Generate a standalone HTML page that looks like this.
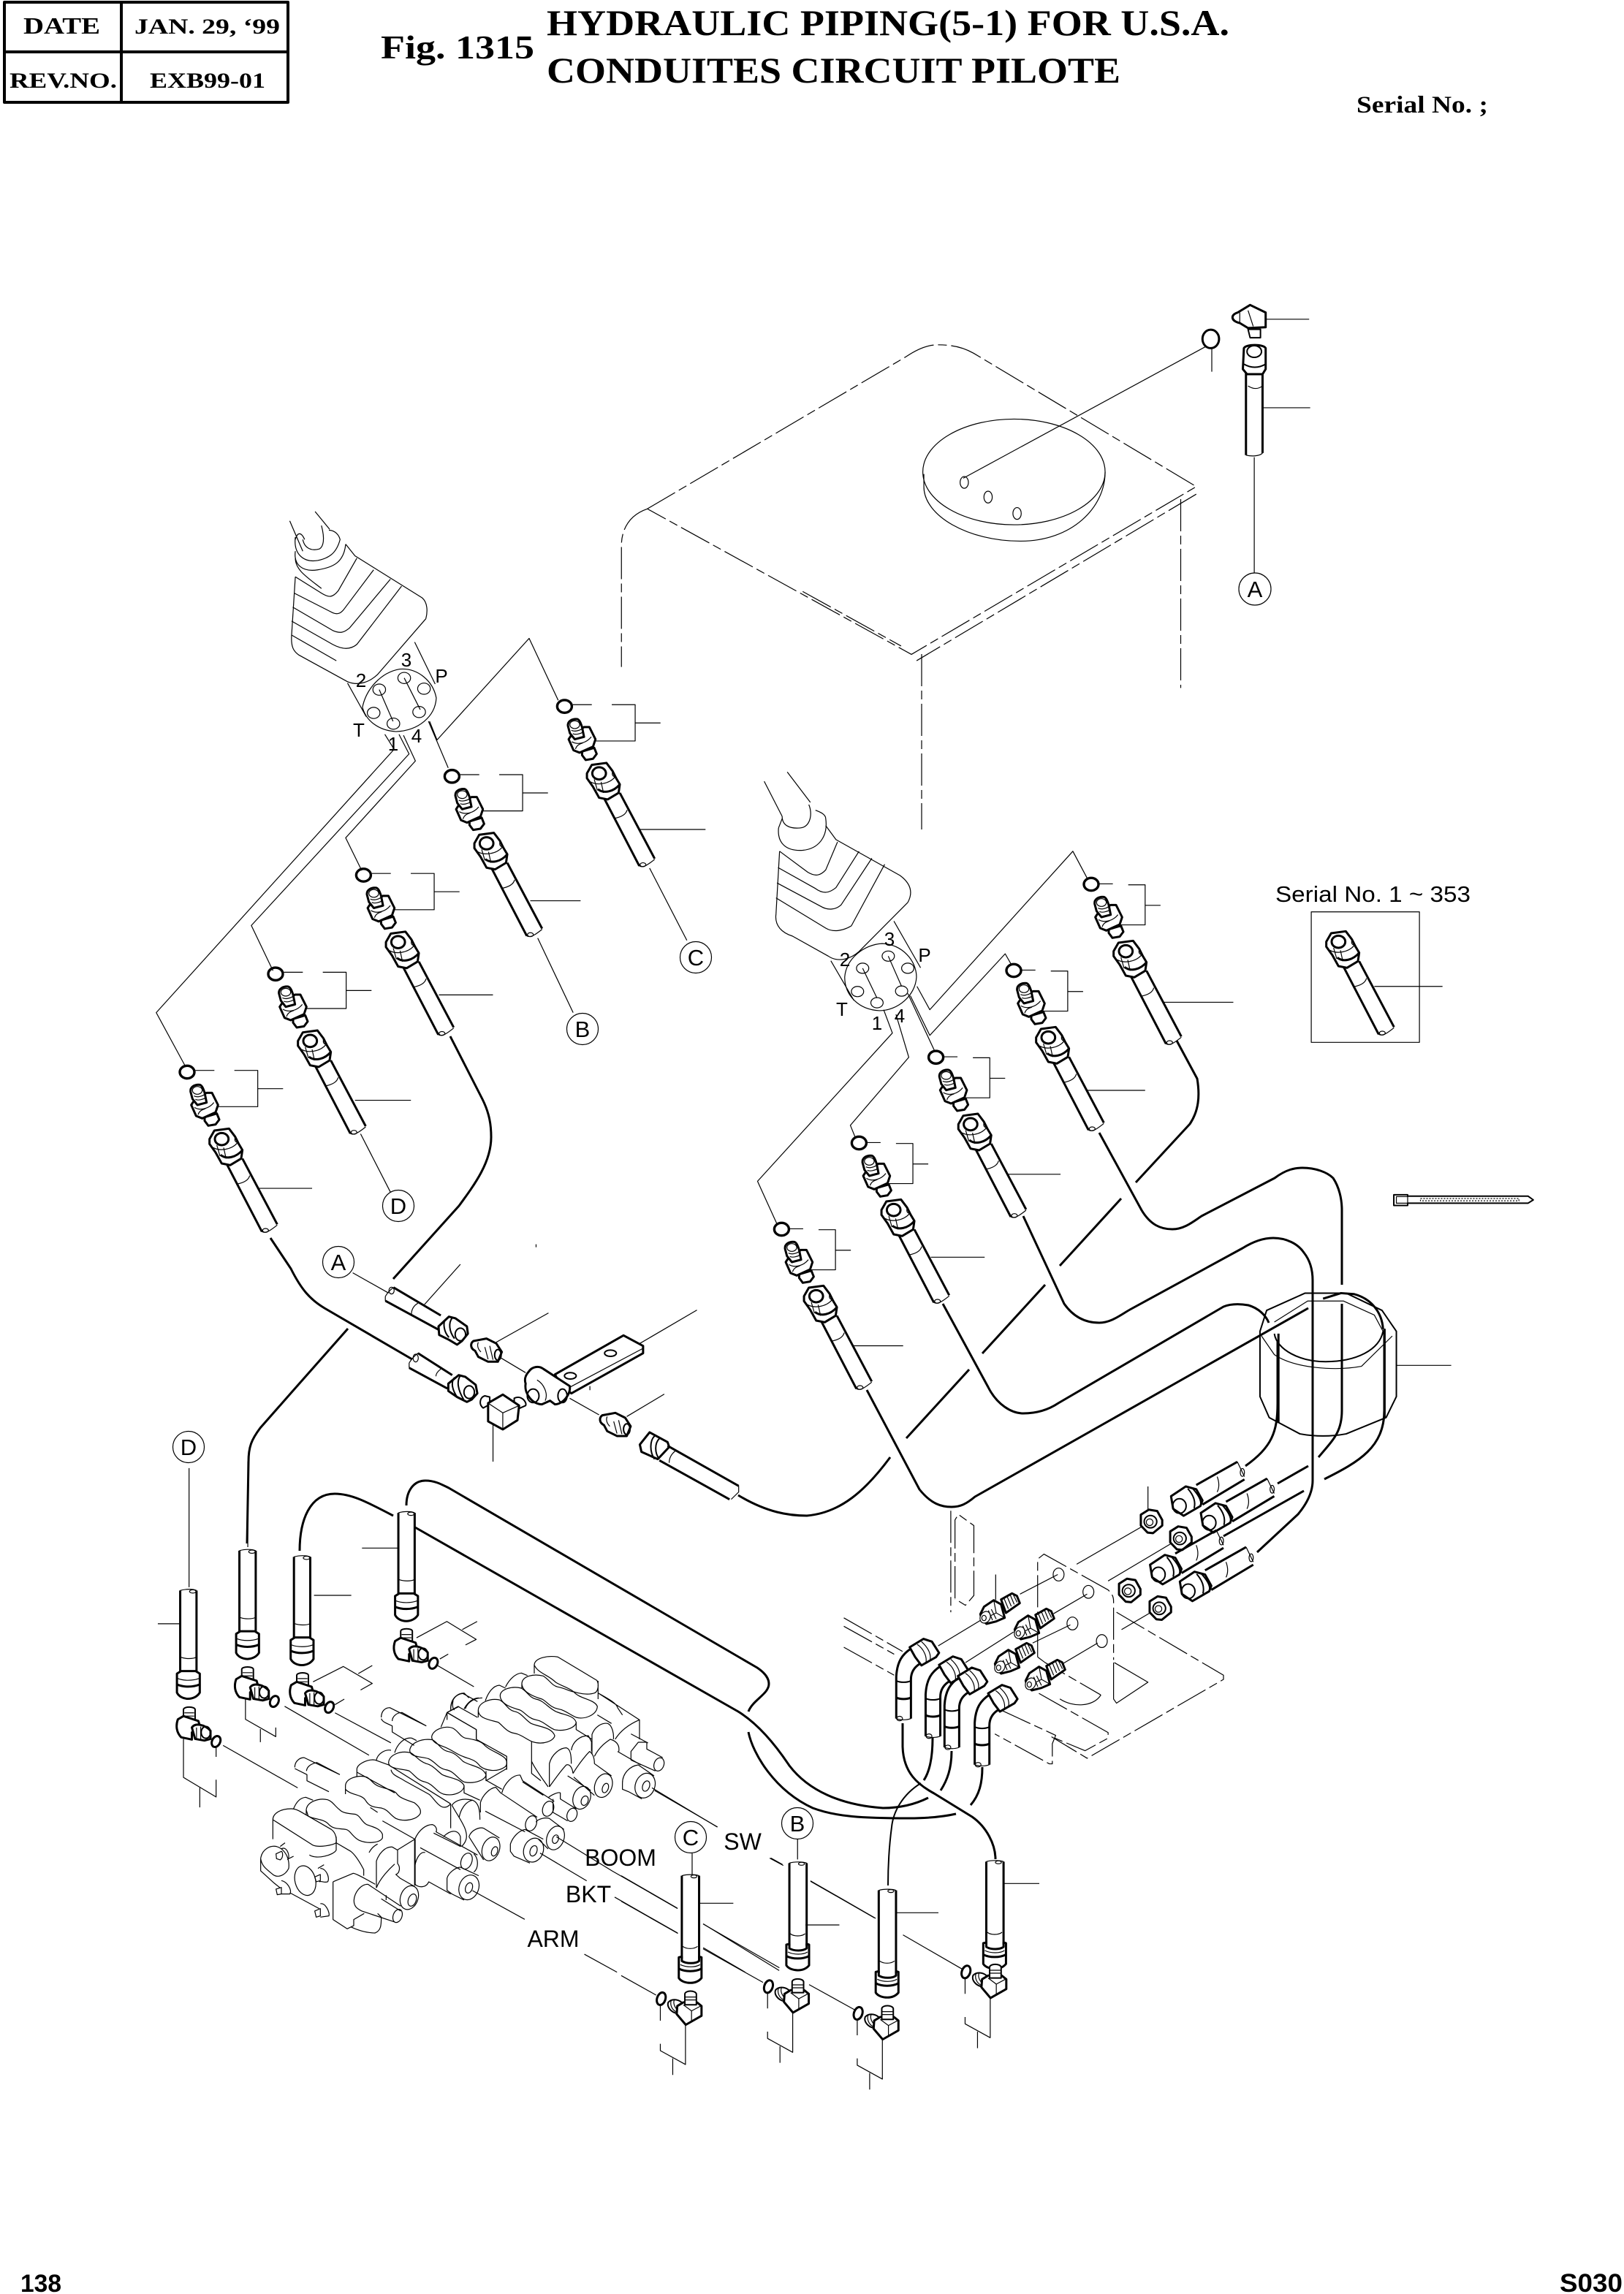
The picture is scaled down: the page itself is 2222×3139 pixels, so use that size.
<!DOCTYPE html>
<html><head><meta charset="utf-8"><title>Fig. 1315</title>
<style>
html,body{margin:0;padding:0;background:#fff;width:2222px;height:3139px;overflow:hidden}
svg{display:block}
path,ellipse,line,rect,polygon,circle{vector-effect:non-scaling-stroke;fill:none;stroke:#000;stroke-width:1.2;stroke-linejoin:round}
.k{stroke-width:3}
.m{stroke-width:2}
.w{fill:#fff}
.d{stroke-dasharray:44 6 12 6}
text{fill:#000;stroke:none}
.se{font-family:"Liberation Serif",serif;font-weight:bold}
.sa{font-family:"Liberation Sans",sans-serif}
</style></head><body>
<svg xmlns="http://www.w3.org/2000/svg" width="2222" height="3139">
<defs>
<g id="hose">
<path class="k" d="M164,380L307,655M227,355L370,625"/>
<path d="M307,655C322,665 345,648 370,628M202,460C232,455 252,445 257,425"/>
<ellipse cx="322" cy="650" rx="12" ry="8"/>
<path class="k w" d="M92,275L112,240L172,232L197,265L212,295L227,320L222,355L177,382L142,375L117,330L92,295Z"/>
<ellipse class="k" cx="142" cy="275" rx="28" ry="25"/>
<path d="M107,310C132,325 182,320 207,290M122,300L135,345M150,310L160,355M197,265C195,280 195,285 207,290"/>
<path class="k" d="M137,340C162,360 202,350 227,320"/>
</g>
<g id="set">
<ellipse class="k" rx="30" ry="26" style="stroke-width:3.4"/>
<path class="k w" d="M72,185L122,170L132,195L117,215L87,220L72,200Z"/>
<path class="k w" d="M80,85L102,85L127,135L117,165L62,190L37,180L17,135L30,115Z"/>
<path d="M30,145C55,160 90,150 110,125M45,175C50,160 60,155 75,150"/>
<path class="k w" d="M14,80C12,60 32,50 52,52C62,55 67,70 72,85L80,125L42,135L22,110Z"/>
<ellipse cx="42" cy="75" rx="20" ry="16"/>
<path d="M28,98C40,105 60,100 72,92M34,112C45,118 65,112 76,106"/>
<use href="#hose"/>
</g>
<g id="tT">
<path class="k" d="M73,395V650M108,395V650"/>
<path d="M73,395C85,390 100,390 108,395M75,600C85,605 100,605 107,600"/>
<ellipse cx="100" cy="398" rx="7" ry="5"/>
<path class="k w" d="M66,650L75,642H106L115,650V708C110,720 100,727 90,727C80,727 70,720 66,708Z"/>
<path class="k" d="M66,683C80,692 100,692 115,683"/>
<path d="M68,665C80,672 100,672 113,665"/>
</g>
<g id="eT">
<path class="m w" d="M80,760C80,750 105,750 105,760V790L95,800H85L80,790Z"/>
<path d="M82,770H103M82,780H103"/>
<path class="k w" d="M68,790L80,780L112,795L115,810L98,830V852L75,845C65,830 63,810 68,790Z"/>
<path class="k w" d="M98,815C105,800 125,805 138,825V850L125,855L105,850Z"/>
<ellipse class="m" cx="128" cy="830" rx="10" ry="18"/>
<path d="M108,815V848M117,812V852"/>
<ellipse class="k" cx="150" cy="858" rx="9" ry="17" transform="rotate(12 150 858)"/>
</g>
<g id="tB">
<path class="k" d="M200,350V690M257,350V690"/>
<path d="M200,350C215,344 245,344 257,350M203,640C215,652 240,652 252,640"/>
<ellipse cx="240" cy="353" rx="10" ry="6"/>
<path class="k w" d="M190,685L200,682V700C215,712 245,712 257,700V682L265,685V770C255,785 240,790 228,790C215,790 198,785 190,770Z"/>
<path class="k" d="M191,732C210,745 245,745 264,732"/>
<path d="M195,715C215,727 245,727 260,715"/>
</g>
<g id="eB">
<ellipse class="k" cx="132" cy="855" rx="14" ry="26" transform="rotate(12 132 855)"/>
<path d="M129,880V945M212,962V1125L129,1068V1040M170,1100V1168"/>
<path class="m w" d="M183,915C165,910 150,890 155,870C165,855 185,855 200,870V905Z"/>
<path d="M165,862C160,880 168,900 180,908M175,860C170,875 178,895 190,905"/>
<path class="k w" d="M183,918L185,885L205,870L250,870L265,885V925L213,962Z"/>
<path d="M205,880L232,905V950M232,905L262,885"/>
<path class="m w" d="M210,835C212,820 245,820 248,835V880H210Z"/>
<path d="M212,848H246M212,860H246"/>
</g>
<g id="fit">
<path class="k w" d="M555,555C545,565 545,585 560,595L570,620L600,640L630,640L642,600L625,565L595,545L575,550Z"/>
<path d="M590,580L600,630M605,575L615,632M570,560C565,575 570,590 578,600"/>
<ellipse class="m" cx="630" cy="612" rx="10" ry="22"/>
</g>
<g id="hz">
<path class="k w" d="M875,385L910,350L935,360L950,400L945,420L905,455L880,430Z"/>
<ellipse class="m" cx="895" cy="420" rx="16" ry="26"/>
<path class="m" d="M915,358C925,375 935,400 930,428M925,355C937,375 950,400 945,420"/>
<path class="k" d="M935,345L1033,262M950,415L1050,325"/>
<path d="M1033,262L1050,315M985,315C990,335 990,355 985,370"/>
<ellipse cx="1045" cy="300" rx="5" ry="14"/>
</g>
<g id="nt">
<path class="k w" d="M-24,-24L-5,-42L15,-37L27,-5V15L5,42L-8,40L-24,15Z"/>
<ellipse class="m" cx="-1" cy="1" rx="15" ry="22"/>
<ellipse cx="-3" cy="3" rx="8" ry="12"/>
</g>
<g id="bo">
<path class="k w" d="M20,-40L65,-65L85,-55L97,-25L40,15Z"/>
<path d="M32,-45L50,-2M45,-52L62,-12M58,-58L74,-20M70,-60L86,-28"/>
<path class="k w" d="M-50,-10L-10,-37L20,-20L35,35L0,50L-40,60L-60,40L-65,20Z"/>
<path d="M-10,-37L0,15M0,15L35,35M0,15L-30,30"/>
<ellipse class="w" cx="-45" cy="33" rx="20" ry="25" transform="rotate(30 -45 33)"/>
<ellipse cx="-50" cy="36" rx="9" ry="11"/>
<path d="M-32,5L-15,45M-20,0L0,40"/>
</g>
<g id="el">
<path class="k w" d="M252,925L285,895L305,905L322,945L315,960L280,990L265,960Z"/>
<path d="M270,915C285,930 295,960 290,985M280,905C295,925 305,950 300,975"/>
<path class="k" d="M255,930C235,950 222,975 220,1030V1180M275,985C260,1000 255,1020 255,1040V1180"/>
<path class="k" d="M220,1105C230,1112 245,1112 255,1105"/>
<path class="m" d="M220,1045C230,1052 245,1052 255,1045"/>
<path d="M220,1180C230,1186 245,1186 255,1180"/>
<ellipse cx="228" cy="1180" rx="7" ry="8"/>
</g>
</defs>

<!-- table -->
<rect x="6" y="3" width="388" height="137" style="stroke-width:4"/>
<path d="M166,3V140M6,71H394" style="stroke-width:4"/>

<!-- Z1: tank and top right -->
<g transform="scale(1.4171,.574)">
<path class="d" d="M625,1213L875,850C890,825 900,822 905,822C920,822 930,828 940,842L1155,1160L880,1560L625,1213"/>
<path class="d" d="M775,1410L870,1540M1155,1178L885,1575"/>
<path class="d" d="M625,1213C605,1230 600,1270 600,1300V1590"/>
<path class="d" d="M1140,1190V1640"/>
<ellipse cx="979" cy="1133" rx="88" ry="126" transform="translate(0,-8)"/>
<path d="M892,1130V1160C892,1230 935,1290 985,1290C1035,1290 1067,1210 1067,1125"/>
<ellipse cx="931" cy="1150" rx="4" ry="14"/><ellipse cx="954" cy="1185" rx="4" ry="14"/><ellipse cx="982" cy="1224" rx="4" ry="14"/>
<path d="M1165,825L930,1140M1170,830V886M1222,761H1264M1219,972H1265M1211,1090V1365"/>
<ellipse class="k" cx="1169" cy="808" rx="8" ry="22"/>
<path class="k w" d="M1207,727L1222,745V780L1205,782L1197,770C1188,765 1188,750 1195,745Z"/>
<path class="m w" d="M1205,785H1217V805H1207Z"/>
<path d="M1197,745V770M1205,740L1210,778"/>
<path class="k w" d="M1201,830C1203,820 1220,820 1222,830V880L1219,892H1204L1200,880Z"/>
<ellipse class="m" cx="1211" cy="838" rx="7" ry="14"/>
<path class="m" d="M1201,868C1208,878 1215,878 1222,868"/>
<path class="k" d="M1203,890V1085M1219,890V1080"/>
<path d="M1203,1085C1208,1088 1216,1088 1219,1080M1205,920C1210,928 1215,928 1219,920"/>
</g>
<path class="d" d="M1261,895V1135"/>

<!-- Z2: left joystick and leaders -->
<g transform="translate(200,700) scale(.5102,.6378)">
<path d="M385,20L420,85M453,0L492,38"/>
<path d="M420,60C425,80 445,85 465,80C475,75 480,60 470,30"/>
<path d="M400,55C395,90 420,110 460,105C490,100 510,90 520,60C515,45 500,40 490,40"/>
<path d="M400,85C395,115 420,130 460,125C500,120 530,110 535,70"/>
<path d="M400,60C405,45 415,42 425,60M400,100C400,125 430,140 470,165"/>
<path d="M535,70L560,95L740,185C755,195 755,215 750,230"/>
<path d="M400,140L470,175C490,185 500,185 515,170L565,100"/>
<path d="M397,175L495,215C510,222 520,220 530,210L610,125"/>
<path d="M393,205L500,255C520,262 530,260 545,250L655,145"/>
<path d="M390,235L500,285C530,298 550,295 565,285L685,160"/>
<path d="M390,265C388,290 395,300 410,308L540,365C570,375 600,365 620,350L750,230"/>
<path d="M400,140L390,265"/>
<path d="M390,265L510,320"/>
<path d="M540,368L590,440M720,280L775,370"/>
<path d="M580,420C590,380 630,345 680,338C730,335 770,365 778,400C775,440 730,470 670,472C625,470 590,450 580,420Z"/>
<ellipse cx="625" cy="382" rx="17" ry="12"/><ellipse cx="692" cy="357" rx="17" ry="12"/><ellipse cx="745" cy="380" rx="17" ry="12"/><ellipse cx="610" cy="432" rx="17" ry="12"/><ellipse cx="663" cy="455" rx="17" ry="12"/><ellipse cx="732" cy="430" rx="17" ry="12"/>
<path d="M625,382L662,450M692,357L735,425M757,450L810,550M760,450L780,490L1027,272L1105,405M640,478L665,510L27,1075L105,1190M690,480L722,535L535,700L578,770M678,478L705,520L282,888L340,985"/>
<path d="M1320,682H1500M1030,835H1165M785,1037H930M560,1263H710M300,1452H445M1350,765L1450,920M1050,915L1145,1075M575,1335L655,1460"/>
</g>
<!-- left sets (3x local coordinates) -->
<g transform="translate(772.4,966.6) scale(.3333)"><use href="#set"/><path d="M34,-7H112M194,-7H290V142H127M290,68H394"/></g>
<g transform="translate(618.4,1062.3) scale(.3333)"><use href="#set"/><path d="M34,-7H112M194,-7H290V142H127M290,68H394"/></g>
<g transform="translate(497.4,1197.5) scale(.3333)"><use href="#set"/><path d="M34,-7H112M194,-7H290V142H127M290,68H394"/></g>
<g transform="translate(377,1332.7) scale(.3333)"><use href="#set"/><path d="M34,-7H112M194,-7H290V142H127M290,68H394"/></g>
<g transform="translate(256,1467) scale(.3333)"><use href="#set"/><path d="M34,-7H112M194,-7H290V142H127M290,68H394"/></g>

<!-- Z3: right joystick and leaders -->
<g transform="translate(1000,1050) scale(.7015,.6378)">
<path d="M65,30L100,105M110,10L155,75"/>
<path d="M100,105C100,125 115,132 135,130C155,128 160,100 152,80"/>
<path d="M93,130C90,165 110,180 140,178C170,175 190,150 185,110C185,100 172,95 165,92"/>
<path d="M185,125L205,155L330,232C352,250 355,270 345,290"/>
<path d="M95,180L150,225C165,235 175,232 185,220L208,160"/>
<path d="M92,215L165,260C180,272 192,270 205,258L250,180"/>
<path d="M90,248L175,298C190,308 205,305 215,295L275,195"/>
<path d="M88,280L185,345C200,355 220,350 235,340L300,208"/>
<path d="M88,315C85,340 100,355 120,362L190,405C210,420 235,410 250,395L345,290"/>
<path d="M95,180L88,315M100,110L93,130"/>
<path d="M195,415L240,500M318,330L370,430"/>
<path d="M222,450C225,410 260,380 295,378C335,380 362,415 362,450C360,490 325,522 290,522C250,520 222,490 222,450Z"/>
<ellipse cx="257" cy="431" rx="12" ry="11"/><ellipse cx="307" cy="405" rx="12" ry="11"/><ellipse cx="345" cy="431" rx="12" ry="11"/><ellipse cx="247" cy="481" rx="12" ry="11"/><ellipse cx="285" cy="505" rx="12" ry="11"/><ellipse cx="333" cy="480" rx="12" ry="11"/>
<path d="M257,431L285,495M307,405L333,470M363,470L388,520L667,180L695,238M350,490L388,575L535,400L548,425M345,485L398,610M298,520L315,570L52,888L90,980M322,530L347,622L233,768L243,795"/>
<path d="M718,250H745M775,252H808V338H760M808,296H838"/>
<path d="M567,435H594M624,437H657V523H609M657,481H687"/>
<path d="M415,621H442M472,623H505V709H457M505,667H535"/>
<path d="M265,805H292M322,807H355V893H307M355,851H385"/>
<path d="M114,990H141M171,992H204V1078H156M204,1036H234"/>
<path d="M843,504H980M693,693H808M540,873H643M390,1051H495M238,1241H336"/>
<rect x="1132" y="310" width="211" height="280"/>
<path d="M1255,470H1388"/>
<!-- big ring -->
<path class="m" d="M1032,1210L1045,1165L1120,1128H1200L1270,1165L1298,1210V1350L1278,1395L1200,1430C1170,1436 1140,1436 1110,1430L1050,1395L1032,1350Z"/>
<path class="m" d="M1060,1215C1065,1250 1110,1275 1160,1275C1220,1275 1265,1250 1272,1210"/>
<path d="M1035,1220L1060,1260C1100,1290 1180,1295 1230,1285L1290,1220M1060,1190L1125,1145H1195L1255,1175L1272,1210"/>
<path class="k" d="M1068,1215V1405M1275,1205V1395"/>
<path class="k" d="M1155,1140L1190,1128L1215,1130C1250,1140 1270,1170 1272,1205"/>
<path d="M1298,1283H1405"/>
<!-- tie -->
<path class="m" d="M1293,917H1320V920H1555L1565,928L1555,935H1320V940H1293Z"/>
<rect x="1298" y="921" width="22" height="14"/>
<rect x="1345" y="925" width="192" height="5" style="stroke-dasharray:2 2"/>
</g>
<g transform="translate(1493,1210) scale(.3333)"><use href="#set"/></g>
<g transform="translate(1387,1328) scale(.3333)"><use href="#set"/></g>
<g transform="translate(1280.6,1446.7) scale(.3333)"><use href="#set"/></g>
<g transform="translate(1175.4,1564) scale(.3333)"><use href="#set"/></g>
<g transform="translate(1069.4,1682) scale(.3333)"><use href="#set"/></g>
<g transform="translate(1784,1197) scale(.3333)"><use href="#hose"/></g>

<!-- Z4: centre -->
<g transform="translate(400,1650) scale(.4464,.3333)">
<path d="M185,275L295,358M515,240L405,405M625,560L785,440M640,625L715,685M1065,565L1240,428M850,790L940,858M1025,865L1140,773M615,900V1050M747,158V170M912,740V757"/>
<path class="k" d="M310,335L455,450M285,390L450,510"/>
<path d="M285,372C290,360 300,345 310,335M285,372V390M365,445C365,430 370,410 385,400"/>
<ellipse cx="304" cy="348" rx="8" ry="14"/>
<path class="k w" d="M480,455L500,462L535,495L538,525L520,555L505,570L480,550L450,530L448,495Z"/>
<ellipse class="m" cx="515" cy="528" rx="16" ry="26"/>
<path class="m" d="M470,465C460,480 465,520 480,540M490,460C478,480 480,515 497,545"/>
<use href="#fit"/>
<path class="k" d="M385,605L490,695M358,665L475,750"/>
<path d="M358,645C365,630 375,615 385,605M358,645V665M440,700C440,690 445,680 455,670"/>
<ellipse cx="378" cy="625" rx="8" ry="16"/>
<path class="k w" d="M510,695L530,702L562,735L567,770L550,795L535,805L505,785L478,760L478,730Z"/>
<ellipse class="m" cx="542" cy="765" rx="16" ry="26"/>
<path class="m" d="M497,705C485,725 490,755 505,785M515,697C503,720 507,755 525,795"/>
<path class="m w" d="M590,780C575,785 570,815 585,830L605,815V785Z"/>
<path class="m w" d="M680,790C700,775 720,805 715,820L695,832L680,810Z"/>
<path class="k w" d="M600,810L645,775L695,820L690,880L645,918L600,885Z"/>
<path d="M600,810L645,850L695,820M645,850V918"/>
<path class="k w" d="M805,692L1015,532L1075,575V605L855,770L820,730Z"/>
<path d="M850,745L1075,585"/>
<ellipse class="m" cx="975" cy="605" rx="18" ry="13"/>
<ellipse class="m" cx="852" cy="698" rx="18" ry="13"/>
<path class="k w" d="M725,680C735,660 755,655 770,670L850,740C855,770 830,815 805,815L790,800L765,815C735,815 710,770 715,730C710,710 715,695 725,680Z"/>
<ellipse class="m" cx="738" cy="780" rx="18" ry="28"/>
<ellipse class="m" cx="828" cy="780" rx="14" ry="28"/>
<path d="M750,715C770,730 785,770 775,800"/>
<use href="#fit" transform="translate(395,305)"/>
<path class="k w" d="M1065,980L1095,930L1150,970L1155,990L1120,1040L1070,1010Z"/>
<path class="m" d="M1110,945C1095,965 1095,1010 1110,1040M1125,955C1110,975 1110,1015 1125,1040"/>
<path class="k" d="M1150,985L1368,1150M1125,1045L1340,1205"/>
<path d="M1368,1150V1175L1345,1205M1155,1055C1155,1030 1165,1015 1175,1005"/>
</g>

<!-- Z5: bracket group -->
<g transform="translate(1100,1900) scale(.574,.3827)">
<path class="d" d="M350,437V800M360,750V470L368,450L405,490V740L385,775L360,752"/>
<path class="d" d="M557,960V610L572,592L725,720C735,735 738,745 738,760V970"/>
<path d="M738,980V1110L745,1125L820,1050L740,980"/>
<path class="d" d="M557,960L575,980L707,1095"/>
<path d="M610,1110C640,1140 690,1140 708,1095"/>
<path class="d" d="M745,800L1000,1025V1040L675,1322L590,1245"/>
<path class="d" d="M560,1090L725,1230V1250L670,1295L590,1245"/>
<path class="d" d="M470,1150L600,1240L592,1270V1342L585,1342L455,1235"/>
<path class="d" d="M95,820L235,940M95,850L215,950M95,925L215,1025"/>
<ellipse cx="607" cy="665" rx="13" ry="23"/><ellipse cx="678" cy="727" rx="13" ry="23"/><ellipse cx="640" cy="840" rx="13" ry="23"/><ellipse cx="710" cy="903" rx="13" ry="23"/>
<path d="M650,628L810,490M725,688L880,550M757,862L833,795M320,920L425,825M385,980L500,870M515,735L605,665M595,805L675,735M545,910L635,845M610,990L700,910M457,665V755M820,350V435"/>
<use href="#nt" transform="translate(827,475)"/>
<use href="#nt" transform="translate(897,535)"/>
<use href="#nt" transform="translate(775,722)"/>
<use href="#nt" transform="translate(848,785)"/>
<use href="#hz"/>
<use href="#hz" transform="translate(71,60)"/>
<use href="#hz" transform="translate(-50,245)"/>
<use href="#hz" transform="translate(21,305)"/>
<use href="#el"/>
<use href="#el" transform="translate(70,63)"/>
<use href="#el" transform="translate(115,103)"/>
<use href="#el" transform="translate(187,165)"/>
</g>
<g transform="translate(1363,2202) scale(.3333)"><use href="#bo"/></g>
<g transform="translate(1410,2223) scale(.3333)"><use href="#bo"/></g>
<g transform="translate(1383,2270) scale(.3333)"><use href="#bo"/></g>
<g transform="translate(1425,2293) scale(.3333)"><use href="#bo"/></g>

<!-- valve bank left (3x crop at 340,2300) -->
<g transform="translate(340,2300) scale(.3333)">
<path d="M100,650V570C100,545 130,525 175,525C190,525 200,530 210,535L340,610C360,625 362,650 360,665C345,675 290,685 265,675L100,570"/>
<path d="M360,640V695C350,715 280,735 250,715"/>
<path d="M237,530C240,495 290,480 325,488C345,495 355,515 375,530C390,545 420,545 440,548C460,555 465,580 485,590C510,600 540,605 550,630V645C540,665 490,670 455,655C425,640 420,615 400,610C370,605 350,610 330,590C310,565 270,570 245,555Z"/>
<path d="M237,530V550M185,525C195,500 210,480 235,478L265,490"/>
<path d="M398,465V430C400,400 450,385 485,395C505,405 510,425 540,435C575,445 600,450 610,465C620,480 650,490 680,500C700,515 710,530 705,545C690,570 640,580 605,565C580,550 575,530 545,522C510,518 495,515 480,490C465,465 420,470 398,445"/>
<path d="M445,360C450,340 490,320 520,325L575,345M445,360V395M525,325C530,300 560,280 585,285M600,295C610,260 640,230 670,235L690,245"/>
<path d="M445,375L600,460M575,345L830,505"/>
<path d="M752,230C755,200 810,180 840,195C860,205 870,230 890,235C920,240 950,245 965,260C985,285 1040,300 1055,320C1065,335 1060,350 1050,355C1020,375 975,370 950,350C930,320 900,320 880,310C860,305 830,280 800,270C775,260 752,250 752,230Z"/>
<path d="M662,285C665,255 710,235 755,242C775,250 790,285 820,290C845,295 860,310 880,330C910,350 960,350 975,385C975,405 930,425 885,415C860,405 845,370 810,365C780,360 770,335 740,320C710,310 662,315 662,285Z"/>
<path d="M575,335C578,305 620,285 665,295C685,305 700,330 730,340C755,345 775,370 795,385C825,400 870,400 885,430C885,455 845,475 800,465C770,455 760,425 725,415C695,410 680,385 660,370C635,360 575,365 575,335Z"/>
<path d="M585,365C590,390 620,395 640,410L740,465C760,475 790,550 830,505M885,430V460L950,490M975,385V408L1040,445M1060,340V365"/>
<path d="M830,505V605M835,510C850,540 880,580 890,610C900,640 895,660 875,680M835,510C850,490 880,480 920,490C945,500 950,530 950,570M865,560C870,530 890,495 920,490"/>
<path class="m" d="M683,650V840"/>
<path d="M610,695L683,650L550,575M500,520L530,540M360,665L420,700C445,720 465,760 473,775V800M525,850V740C535,710 560,680 590,682L612,695V750"/>
<path d="M612,750C625,765 620,790 605,795L622,810L683,845M525,850C540,810 580,770 600,752M495,705C505,685 520,675 530,670"/>
<path d="M50,730C55,690 90,675 115,680C150,690 170,730 165,770C150,800 120,810 100,795C70,770 55,760 50,730V780L105,830L130,850"/>
<path d="M113,710L135,700C140,700 145,725 130,735L115,730ZM135,690C155,675 175,720 160,735M130,680L150,665M165,730L185,720"/>
<ellipse cx="233" cy="820" rx="42" ry="62" transform="rotate(-15 233 820)"/>
<path d="M272,805L295,795V820L278,825ZM295,770C320,770 335,810 325,825C310,830 300,820 290,825M285,770L310,755"/>
<path d="M113,855L135,848V875L118,878ZM135,820C160,825 180,860 170,875L135,875"/>
<path d="M272,945L295,935V965L278,970ZM295,915C315,910 335,950 330,965L295,970M170,870L290,935"/>
<path d="M347,825V980L405,1018L432,1005V980L475,955M420,1010C440,1020 480,1035 520,1035C545,1025 545,1000 545,970L530,955M347,825L370,815L430,790C440,790 475,810 520,835"/>
<path d="M490,835C460,835 435,870 433,900C432,925 445,935 465,945L600,990M490,835L625,925M545,895L625,945M565,880V900"/>
<ellipse cx="612" cy="965" rx="18" ry="28" transform="rotate(20 612 965)"/>
<ellipse class="w" cx="660" cy="890" rx="36" ry="50" transform="rotate(20 660 890)"/>
<ellipse cx="672" cy="900" rx="16" ry="26" transform="rotate(20 672 900)"/>
<path d="M190,355C190,330 210,315 228,315L375,385M190,360L240,385V410L330,455M238,370C240,350 260,340 280,335L375,385"/>
<path d="M545,150C545,125 560,110 580,110L730,185M545,155C550,170 570,175 590,185V210L680,265M590,165C590,145 610,130 630,130L730,185"/>
<path d="M790,190L815,130L860,105L940,150M815,130L935,200V240M830,115C830,70 860,50 885,50L905,70M890,115C900,85 930,70 960,70"/>
<path d="M683,650C700,610 730,590 755,590C770,595 775,610 770,620L940,715M705,685L870,775M683,835C700,850 730,850 740,825L830,875M683,760C690,720 710,700 725,705"/>
<ellipse cx="895" cy="740" rx="22" ry="34" transform="rotate(20 895 740)"/>
<path d="M925,710C945,730 945,770 925,785"/>
<path d="M815,810C820,790 850,765 870,765L945,800M815,810V860L835,875L885,900"/>
<ellipse cx="905" cy="848" rx="40" ry="52" transform="rotate(20 905 848)"/>
<ellipse cx="905" cy="850" rx="14" ry="22" transform="rotate(20 905 850)"/>
<path d="M760,625L870,680V640C860,610 830,610 800,640"/>
</g>
<!-- valve bank right (3x crop at 600,2240) -->
<g transform="translate(600,2240) scale(.3333)">
<path d="M393,115C395,85 450,75 490,82L650,178C660,195 655,225 640,230C610,240 570,230 555,225C530,205 500,200 480,185C450,155 410,150 393,115ZM393,115V150M655,180V255"/>
<path d="M342,190C345,160 390,150 430,160C455,175 465,200 490,205C520,210 540,225 555,225C580,255 640,255 652,285C650,320 600,340 565,330C540,320 520,300 490,295C460,290 445,265 425,255C390,245 342,225 342,190ZM342,190V210"/>
<path d="M253,240C255,215 300,200 340,210C365,225 375,250 400,255C430,260 450,290 480,305C510,320 555,320 565,350C565,370 520,390 475,380C450,370 430,345 400,340C370,335 355,310 335,300C300,290 253,275 253,240Z"/>
<path d="M163,300C165,270 210,250 250,258C275,270 285,300 310,305C340,310 355,340 380,355C415,370 465,370 477,405C475,425 430,445 385,430C360,420 340,400 310,395C280,390 265,365 245,350C210,340 163,335 163,300ZM163,300V330"/>
<path d="M192,262C205,225 225,200 250,198L275,210M275,205C290,175 315,150 340,148L365,158"/>
<path d="M50,300C50,260 70,235 100,232L160,265M60,260C55,285 60,295 65,300M105,295C120,265 145,250 165,250"/>
<path d="M35,310L85,285M35,310V340M35,310L155,380V420M155,420L280,490V540M195,550V590L280,540"/>
<path d="M655,230L825,340V420M825,340C790,355 750,380 725,420M655,230C690,250 730,270 735,290L755,320M790,398L860,435M565,350V380L630,420M652,320L710,355"/>
<path d="M630,480V400C640,370 670,350 695,355C715,365 720,400 718,420M545,465C550,430 580,405 615,405L628,430V470M455,615V520C465,480 500,455 525,455C540,460 545,480 545,520"/>
<path d="M382,430V560L420,590M382,510C395,540 425,580 450,615M455,615C480,580 510,540 525,525C540,520 550,540 552,560M552,560C570,530 600,490 620,470C635,480 640,500 640,520M640,490C660,450 690,430 705,420C725,425 745,440 740,470"/>
<path d="M790,505V470L820,432H855V460L920,495M790,505L890,550"/>
<ellipse cx="905" cy="523" rx="20" ry="28" transform="rotate(20 905 523)"/>
<path d="M735,470L830,525M755,600C755,560 785,530 820,525L885,570M755,600V625L780,635L835,665"/>
<ellipse cx="848" cy="610" rx="40" ry="52" transform="rotate(20 848 610)"/>
<ellipse cx="852" cy="612" rx="14" ry="22" transform="rotate(20 852 612)"/>
<path d="M640,520L710,570M555,575L640,650"/>
<ellipse cx="677" cy="610" rx="35" ry="50" transform="rotate(20 677 610)"/>
<ellipse cx="685" cy="620" rx="12" ry="20" transform="rotate(20 685 620)"/>
<path d="M530,570L625,630"/>
<ellipse cx="588" cy="660" rx="35" ry="48" transform="rotate(20 588 660)"/>
<ellipse cx="600" cy="672" rx="14" ry="20" transform="rotate(20 600 672)"/>
<path d="M450,660C460,650 490,635 500,640V665L565,705M470,665V720L530,755"/>
<ellipse cx="548" cy="730" rx="20" ry="28" transform="rotate(20 548 730)"/>
<path d="M260,640C270,600 305,565 335,567L345,590L475,675M345,595L430,650"/>
<ellipse cx="450" cy="705" rx="22" ry="32" transform="rotate(20 450 705)"/>
<path d="M172,680V720M172,680C180,650 210,620 235,617L255,640L405,740M192,715L355,800"/>
<ellipse cx="380" cy="765" rx="22" ry="32" transform="rotate(20 380 765)"/>
<path d="M400,760C410,745 440,740 455,745L515,790M410,830L450,870"/>
<ellipse cx="480" cy="825" rx="35" ry="50" transform="rotate(20 480 825)"/>
<ellipse cx="480" cy="830" rx="12" ry="18" transform="rotate(20 480 830)"/>
<path d="M295,850C305,820 330,795 355,790L430,830M295,850V880L310,900L375,928"/>
<ellipse cx="390" cy="875" rx="40" ry="50" transform="rotate(20 390 875)"/>
<ellipse cx="390" cy="878" rx="14" ry="22" transform="rotate(20 390 878)"/>
<path d="M125,820C135,790 170,780 185,785L250,825M125,820L185,915"/>
<ellipse cx="215" cy="870" rx="35" ry="50" transform="rotate(20 215 870)"/>
<ellipse cx="230" cy="880" rx="12" ry="20" transform="rotate(20 230 880)"/>
</g>

<!-- Z6: left tubes and elbows -->
<g transform="translate(200,2000) scale(.6378,.4464)">
<path d="M1085,1000L1225,1120M880,1150L1000,1255L1140,1370M845,1200L945,1285M1005,1335L1140,1445M700,1315L812,1403M940,1510L1010,1565M1340,1215L1365,1235M1195,1417L1358,1560M1195,1490L1285,1565M1425,1285L1565,1400"/>
<path d="M218,0V262M92,20V385M25,497H73M360,410H440M463,265H540"/>
<use href="#tT"/>
<use href="#tT" transform="translate(127,-122)"/>
<use href="#tT" transform="translate(244,-103)"/>
<use href="#tT" transform="translate(468,-238)"/>
<use href="#eT"/>
<use href="#eT" transform="translate(125,-123)"/>
<use href="#eT" transform="translate(243,-105)"/>
<use href="#eT" transform="translate(466,-240)"/>
<path d="M165,870L325,1000M150,875V905M80,850V968L150,1028V975M115,1000V1060"/>
<path d="M213,728V790L278,843V815M245,820V860M297,750L478,900"/>
<path d="M358,675L423,628L485,680L460,700M455,650L485,625M405,770L525,862M405,745L425,728"/>
<path d="M580,540L645,490L708,545L685,562M678,515L710,490M625,625L703,690M630,605L648,590"/>
</g>

<!-- Z7: bottom tubes -->
<g transform="translate(850,2450) scale(.4145,.3333)">
<path d="M234,258V347M582,200V283M257,463H370M608,552H720M907,502H1047M1262,382H1380"/>
<path d="M0,350L185,483M0,455L187,587M270,548L522,728M270,650L468,788M490,278L535,308M625,373L836,523M620,797L770,900M930,593L1125,733M110,0L318,150M0,760L115,840"/>
<use href="#tB"/>
<use href="#tB" transform="translate(355,-52)"/>
<use href="#tB" transform="translate(650,60)"/>
<use href="#tB" transform="translate(1005,-58)"/>
<use href="#eB"/>
<use href="#eB" transform="translate(354,-50)"/>
<use href="#eB" transform="translate(650,60)"/>
<use href="#eB" transform="translate(1006,-110)"/>
</g>

<!-- long hoses in half-scale coordinates -->
<g transform="scale(2)">
<path class="k" d="M185,847L199,868C206,882 212,889 222,895L282,930"/>
<path class="k" d="M308,709L330,752C335,762 336,770 336,778C336,795 325,810 314,825L269,875"/>
<path class="k" d="M238,909L200,952L178,977C172,985 170,990 170,1000L169,1056"/>
<path class="k" d="M505,1023C525,1035 540,1037 552,1037C575,1035 592,1020 609,997M620,984L663,937M672,926L715,879M725,866L767,820M777,809L814,769C820,760 821,750 819,738L805,712"/>
<path class="k" d="M752,775L781,828C787,838 794,841 802,841C810,841 816,836 822,832L872,806C880,800 886,799 891,799C900,799 908,802 912,806C916,812 918,820 918,828V879M918,892V965C918,980 912,985 902,997M895,1003L874,1015"/>
<path class="k" d="M700,832L728,892C735,902 744,905 752,905C760,905 766,900 773,896L850,854C858,849 865,847 871,847C880,847 888,851 892,857C896,862 898,868 898,876V1013C898,1022 893,1030 888,1036L860,1062"/>
<path class="k" d="M645,892L676,949C682,961 692,967 700,967C710,967 718,964 724,960L837,894C842,892 848,892 854,893C861,895 866,900 868,905"/>
<path class="k" d="M874,917V960C874,980 870,990 852,1003"/>
<path class="k" d="M593,951L629,1019C637,1029 644,1031 651,1031C657,1031 661,1029 667,1024L895,895"/>
<path class="k" d="M947,909V965C947,990 930,1000 906,1012M892,1020L837,1051"/>
<path class="k" d="M617.5,1179V1195C618,1213 628,1221 639,1227L665,1243C675,1250 681,1262 681,1272"/>
<path class="k" d="M672,1209C672,1220 670,1228 664,1235M638,1189C638,1202 636,1212 632,1218M651,1198C651,1210 648,1218 643.5,1225"/>
<path class="k" d="M205,1061C205,1040 212,1022 229,1022C240,1022 250,1027 269,1037"/>
<path class="k" d="M278,1030C278,1020 283,1013 291,1013C297,1013 301,1015 307,1018L518,1141C524,1145 526,1149 526,1152C526,1159 515,1163 512,1171"/>
<path class="k" d="M284,1045L505,1171C518,1179 530,1193 540,1208C553,1225 575,1235 604,1237C615,1237 625,1235 635,1230"/>
<path class="k" d="M512,1185C515,1200 530,1225 556,1237C572,1243 590,1244 622,1244C635,1244 645,1243 654,1241"/>
<path class="m" d="M630,1220C617,1228 611,1240 610,1250C608,1265 607.5,1280 607.5,1290"/>
</g>

<!-- label circles -->
<circle class="w" cx="952" cy="1310" r="21.5"/><circle class="w" cx="797" cy="1408" r="21.5"/><circle class="w" cx="545" cy="1650" r="21.5"/>
<circle class="w" cx="1717" cy="806" r="22"/><circle class="w" cx="463" cy="1727" r="21.5"/><circle class="w" cx="258" cy="1980" r="21.5"/>
<circle class="w" cx="945" cy="2514" r="21.5"/><circle class="w" cx="1091" cy="2495" r="21.5"/>

<g class="sa" font-size="31" text-anchor="middle">
<text x="952" y="1321">C</text><text x="797" y="1419">B</text><text x="545" y="1661">D</text>
<text x="1717" y="817">A</text><text x="463" y="1738">A</text><text x="258" y="1991">D</text>
<text x="945" y="2525">C</text><text x="1091" y="2506">B</text>
</g>
<g class="sa" font-size="26" text-anchor="middle">
<text x="556" y="912">3</text><text x="604" y="934">P</text><text x="494" y="940">2</text><text x="491" y="1008">T</text><text x="538" y="1027">1</text><text x="570" y="1016">4</text>
<text x="1217" y="1294">3</text><text x="1265" y="1316">P</text><text x="1156" y="1322">2</text><text x="1152" y="1390">T</text><text x="1200" y="1409">1</text><text x="1231" y="1399">4</text>
</g>
<g class="sa" font-size="32" text-anchor="middle">
<text x="1016" y="2531">SW</text><text x="849" y="2553">BOOM</text><text x="805" y="2603">BKT</text><text x="757" y="2664">ARM</text>
</g>
<text class="sa" x="1745" y="1234" font-size="31" textLength="267" lengthAdjust="spacingAndGlyphs">Serial No. 1 ~ 353</text>

<g class="se">
<text x="32" y="46" font-size="32" textLength="105" lengthAdjust="spacingAndGlyphs">DATE</text>
<text x="184" y="46" font-size="30" textLength="199" lengthAdjust="spacingAndGlyphs">JAN. 29, ‘99</text>
<text x="13" y="120" font-size="30" textLength="147" lengthAdjust="spacingAndGlyphs">REV.NO.</text>
<text x="205" y="120" font-size="30" textLength="158" lengthAdjust="spacingAndGlyphs">EXB99-01</text>
<text x="521" y="80" font-size="46" textLength="210" lengthAdjust="spacingAndGlyphs">Fig. 1315</text>
<text x="748" y="48" font-size="50" textLength="934" lengthAdjust="spacingAndGlyphs">HYDRAULIC PIPING(5-1) FOR U.S.A.</text>
<text x="748" y="113" font-size="50" textLength="785" lengthAdjust="spacingAndGlyphs">CONDUITES CIRCUIT PILOTE</text>
<text x="1856" y="154" font-size="33" textLength="180" lengthAdjust="spacingAndGlyphs">Serial No. ;</text>
</g>
<text class="sa" x="28" y="3136" font-size="34" font-weight="bold" textLength="56" lengthAdjust="spacingAndGlyphs">138</text>
<text class="sa" x="2134" y="3136" font-size="35" font-weight="bold" textLength="86" lengthAdjust="spacingAndGlyphs">S030</text>
</svg>
</body></html>
